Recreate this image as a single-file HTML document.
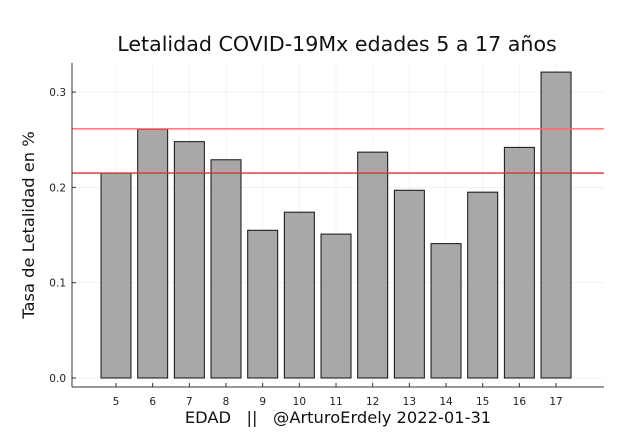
<!DOCTYPE html>
<html><head><meta charset="utf-8"><style>
body{margin:0;background:#fff}
svg{display:block;font-family:"DejaVu Sans","Liberation Sans",sans-serif}
</style></head><body>
<svg id="c" width="630" height="435"></svg>
<script>
const categories=["5","6","7","8","9","10","11","12","13","14","15","16","17"];
const values=[0.215,0.261,0.248,0.229,0.155,0.174,0.151,0.237,0.197,0.141,0.195,0.242,0.321];
const refLines=[0.2615,0.215];
const yTicks=[0,0.1,0.2,0.3];
const yTickLabels=["0.0","0.1","0.2","0.3"];
const NS="http://www.w3.org/2000/svg";
const svg=document.getElementById('c');
const L=72,R=604,T=63,B=387;
const y=v=>378-v*953;
const x=i=>116+i*36.67;
function mk(t,a,p){const e=document.createElementNS(NS,t);for(const k in a)e.setAttribute(k,a[k]);(p||svg).appendChild(e);return e;}
categories.forEach((c,i)=>{const g=mk('line',{x1:x(i),x2:x(i),y1:T,y2:B,stroke:'#000','stroke-opacity':0.08,'stroke-width':0.6});

});
yTicks.forEach((v,i)=>{const g=mk('line',{x1:L,x2:R,y1:y(v),y2:y(v),stroke:'#000','stroke-opacity':0.08,'stroke-width':0.6});


const tk=mk('line',{x1:L,x2:L+4,y1:y(v),y2:y(v),stroke:'#333','stroke-width':1});


const t=mk('text',{x:L-6,y:y(v)+4,'text-anchor':'end','font-size':10.5,fill:'#222'});t.textContent=yTickLabels[i];

});
values.forEach((v,i)=>{const b=mk('rect',{x:x(i)-15,y:y(v),width:30,height:y(0)-y(v),fill:'#a8a8a8',stroke:'#111','stroke-width':1});


const tk=mk('line',{x1:x(i),x2:x(i),y1:B,y2:B-4,stroke:'#333','stroke-width':1});


const t=mk('text',{x:x(i),y:B+18,'text-anchor':'middle','font-size':10.5,fill:'#222'});t.textContent=categories[i];

});
const rc=['#ff6b6b','#dd3333'];
refLines.forEach((v,i)=>{const l=mk('line',{x1:L,x2:R,y1:y(v),y2:y(v),stroke:rc[i],'stroke-width':1.4});

});
const ax=mk('line',{x1:L,x2:L,y1:T,y2:B,stroke:'#333','stroke-width':1});


const bx=mk('line',{x1:L,x2:R,y1:B,y2:B,stroke:'#333','stroke-width':1});


const tt=mk('text',{x:337,y:51,'text-anchor':'middle','font-size':20.6,fill:'#111'});tt.textContent='Letalidad COVID-19Mx edades 5 a 17 años';


const xt=mk('text',{x:338,y:423,'text-anchor':'middle','font-size':16.3,fill:'#111',style:'white-space:pre'});xt.textContent='EDAD   ||   @ArturoErdely 2022-01-31';


const yt=mk('text',{x:34,y:225,'text-anchor':'middle','font-size':16.3,fill:'#111',transform:'rotate(-90 34 225)'});yt.textContent='Tasa de Letalidad en %';


</script>
</body></html>
